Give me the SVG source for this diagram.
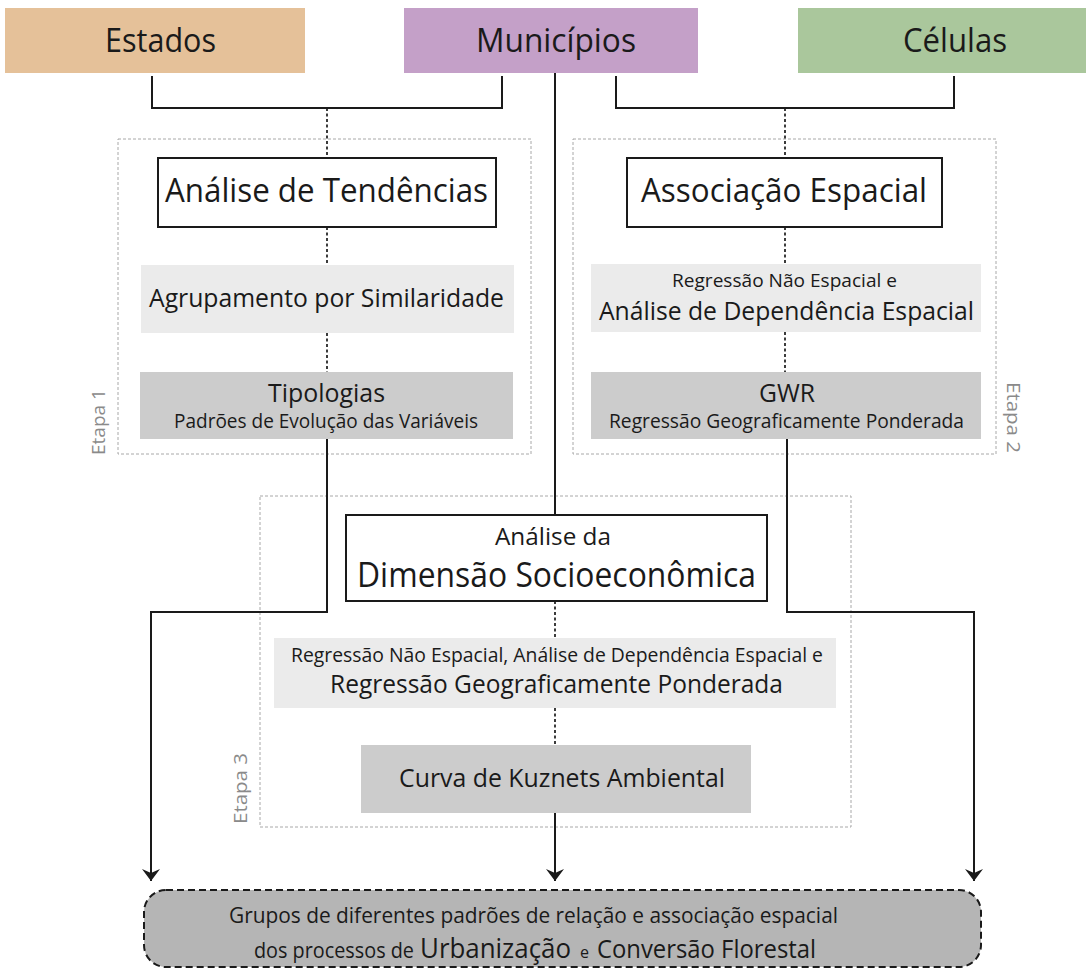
<svg xmlns="http://www.w3.org/2000/svg" width="1086" height="969" viewBox="0 0 1086 969">
<defs>
<style>
text{font-family:"Open Sans","Noto Sans","DejaVu Sans",sans-serif;fill:#1a1a1a}
.hdr{font-size:32px}
.big{font-size:33px}
.et{font-size:19px;fill:#8a8a8a}
.box{fill:#fff;stroke:#1a1a1a;stroke-width:2}
.lt{fill:#ebebeb}
.dk{fill:#cccccc}
.stage{fill:none;stroke:#a8a8a8;stroke-width:1;stroke-dasharray:3 2}
.solid{fill:none;stroke:#1a1a1a;stroke-width:2}
.dot{fill:none;stroke:#1a1a1a;stroke-width:1.7;stroke-dasharray:3 2.5}
</style>
<marker id="arr" markerUnits="userSpaceOnUse" markerWidth="20" markerHeight="20" viewBox="-14 -10 16 20" refX="0" refY="0" orient="auto">
<path d="M0,0 L-12,-9 L-8,0 L-12,9 Z" fill="#1a1a1a"/>
</marker>
</defs>
<rect width="1086" height="969" fill="#fff"/>

<g id="stages">
<rect class="stage" x="118" y="139" width="413" height="315"/>
<rect class="stage" x="573" y="139" width="423" height="315"/>
<rect class="stage" x="260" y="496" width="591" height="331"/>
<text class="et" transform="translate(105,455) rotate(-90)" textLength="66" lengthAdjust="spacingAndGlyphs">Etapa 1</text>
<text class="et" transform="translate(1007,382) rotate(90)" textLength="71" lengthAdjust="spacingAndGlyphs">Etapa 2</text>
<text class="et" transform="translate(247,824) rotate(-90)" textLength="71" lengthAdjust="spacingAndGlyphs">Etapa 3</text>
</g>

<g id="connectors">
<path class="solid" d="M152,76 V108 H502 V76"/>
<path class="solid" d="M616,76 V108 H954 V76"/>
<path class="dot" d="M327,108 V158"/>
<path class="dot" d="M785,108 V158"/>
<path class="solid" d="M555,73 V515"/>
<path class="dot" d="M327,227 V265"/>
<path class="dot" d="M327,333 V372"/>
<path class="dot" d="M785,227 V264"/>
<path class="dot" d="M785,332 V372"/>
<path class="dot" d="M555,601 V638"/>
<path class="dot" d="M555,708 V745"/>
<path class="solid" d="M327,439 V612 H151 V881" marker-end="url(#arr)"/>
<path class="solid" d="M787,439 V612 H974 V881" marker-end="url(#arr)"/>
<path class="solid" d="M555,813 V881" marker-end="url(#arr)"/>
</g>

<g id="estados">
<rect x="5" y="8" width="300" height="65" fill="#e5c199"/>
<text class="hdr" x="105" y="52" textLength="111" lengthAdjust="spacingAndGlyphs">Estados</text>
</g>
<g id="municipios">
<rect x="404" y="8" width="294" height="65" fill="#c4a0c8"/>
<text class="hdr" x="476" y="52" textLength="160" lengthAdjust="spacingAndGlyphs">Municípios</text>
</g>
<g id="celulas">
<rect x="798" y="8" width="288" height="65" fill="#aac79c"/>
<text class="hdr" x="903" y="52" textLength="104" lengthAdjust="spacingAndGlyphs">Células</text>
</g>

<g id="analise-tendencias">
<rect class="box" x="158" y="158" width="338" height="69"/>
<text class="big" x="165" y="202" textLength="323" lengthAdjust="spacingAndGlyphs">Análise de Tendências</text>
</g>
<g id="agrupamento">
<rect class="lt" x="141" y="265" width="373" height="68"/>
<text x="149" y="307" font-size="25.5" textLength="355" lengthAdjust="spacingAndGlyphs">Agrupamento por Similaridade</text>
</g>
<g id="tipologias">
<rect class="dk" x="140" y="372" width="373" height="67"/>
<text x="268" y="402" font-size="26" textLength="117" lengthAdjust="spacingAndGlyphs">Tipologias</text>
<text x="174" y="428" font-size="19.5" textLength="304" lengthAdjust="spacingAndGlyphs">Padrões de Evolução das Variáveis</text>
</g>

<g id="associacao-espacial">
<rect class="box" x="627" y="158" width="315" height="69"/>
<text class="big" x="641" y="202" textLength="286" lengthAdjust="spacingAndGlyphs">Associação Espacial</text>
</g>
<g id="regressao-e2">
<rect class="lt" x="591" y="264" width="390" height="68"/>
<text x="672" y="287" font-size="19" textLength="225" lengthAdjust="spacingAndGlyphs">Regressão Não Espacial e</text>
<text x="599" y="320" font-size="26" textLength="375" lengthAdjust="spacingAndGlyphs">Análise de Dependência Espacial</text>
</g>
<g id="gwr">
<rect class="dk" x="591" y="372" width="390" height="67"/>
<text x="759" y="402" font-size="25" textLength="56" lengthAdjust="spacingAndGlyphs">GWR</text>
<text x="609" y="428" font-size="19.5" textLength="355" lengthAdjust="spacingAndGlyphs">Regressão Geograficamente Ponderada</text>
</g>

<g id="dimensao-socioeconomica">
<rect class="box" x="346" y="515" width="421" height="86"/>
<text x="495" y="545" font-size="24" textLength="116" lengthAdjust="spacingAndGlyphs">Análise da</text>
<text x="357" y="587" font-size="34" textLength="399" lengthAdjust="spacingAndGlyphs">Dimensão Socioeconômica</text>
</g>
<g id="regressao-e3">
<rect class="lt" x="274" y="638" width="562" height="70"/>
<text x="291" y="662" font-size="19.5" textLength="532" lengthAdjust="spacingAndGlyphs">Regressão Não Espacial, Análise de Dependência Espacial e</text>
<text x="330" y="693" font-size="25.5" textLength="453" lengthAdjust="spacingAndGlyphs">Regressão Geograficamente Ponderada</text>
</g>
<g id="curva-kuznets">
<rect class="dk" x="361" y="745" width="390" height="68"/>
<text x="399" y="787" font-size="26" textLength="326" lengthAdjust="spacingAndGlyphs">Curva de Kuznets Ambiental</text>
</g>

<g id="resultado">
<rect x="144" y="890" width="837" height="77" rx="22" fill="#b5b5b5" stroke="#1a1a1a" stroke-width="2" stroke-dasharray="7 4"/>
<text x="229" y="923" font-size="21.5" textLength="609" lengthAdjust="spacingAndGlyphs">Grupos de diferentes padrões de relação e associação espacial</text>
<text x="254" y="958" font-size="21" textLength="160" lengthAdjust="spacingAndGlyphs">dos processos de</text>
<text x="420" y="958" font-size="27" textLength="151" lengthAdjust="spacingAndGlyphs">Urbanização</text>
<text x="580" y="958" font-size="16" textLength="9" lengthAdjust="spacingAndGlyphs">e</text>
<text x="597" y="958" font-size="26" textLength="219" lengthAdjust="spacingAndGlyphs">Conversão Florestal</text>
</g>
</svg>
